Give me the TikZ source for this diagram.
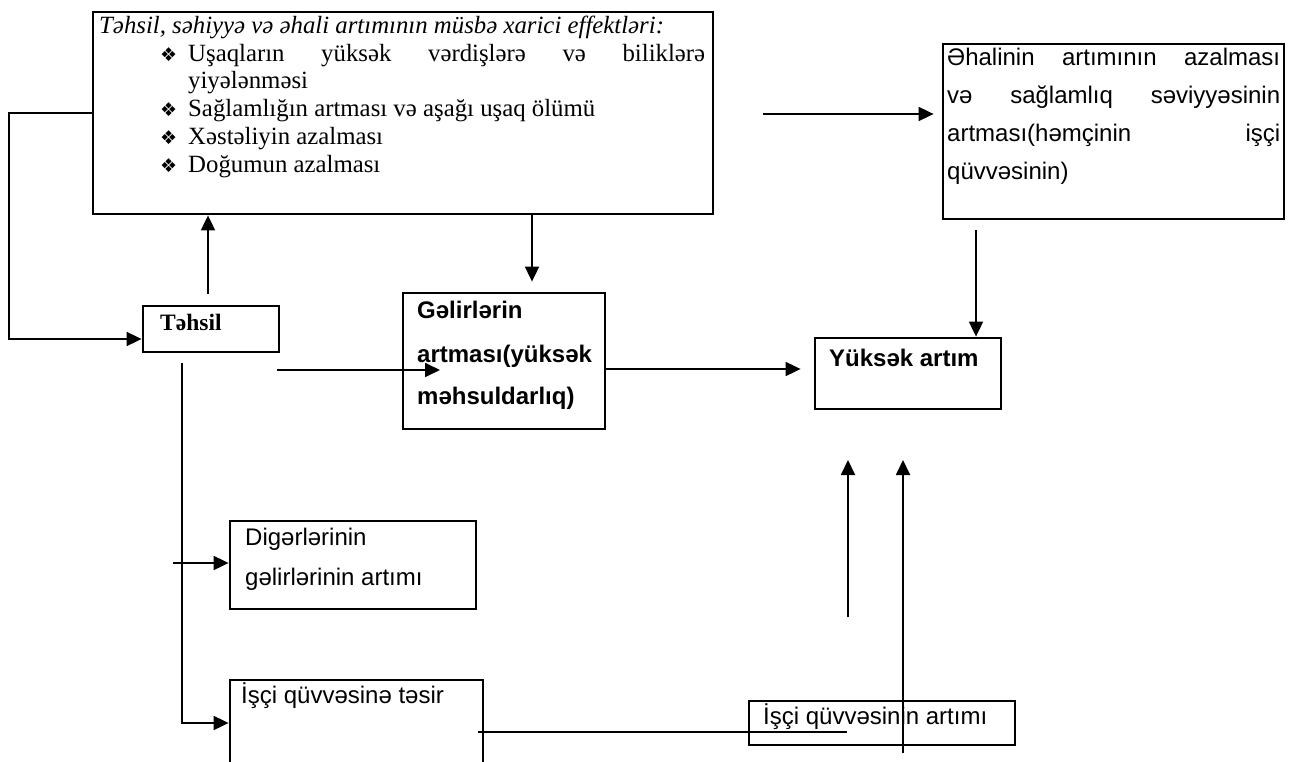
\documentclass[tikz,border=0pt]{standalone}
\usepackage{fontspec}
\setmainfont{Liberation Serif}
\setsansfont{Liberation Sans}
\newfontfamily\symfnt{DejaVu Sans}
\usetikzlibrary{arrows.meta,fit}
\begin{document}
\begin{tikzpicture}[x=1pt,y=-1pt,
  box/.style={draw, line width=2.8pt, inner sep=0pt},
  conn/.style={line width=1.8pt},
  arr/.style={conn, -{Triangle[length=15pt,width=14pt]}},
  txt/.style={anchor=base west, inner sep=0pt},
  serif/.style={txt, font=\fontsize{24.8}{28}\selectfont},
  sans/.style={txt, font=\fontsize{24}{40}\selectfont\sffamily},
  bsans/.style={txt, font=\fontsize{24}{40}\selectfont\sffamily\bfseries},
  bul/.style={txt, font=\fontsize{19}{19}\selectfont\symfnt}
]
\useasboundingbox (0,0) rectangle (1291,762);
\clip (0,0) rectangle (1291,762);
\fill[white] (0,0) rectangle (1291,762);

% boxes
\node[box, fit={(93,12) (713,214)}] (A) {};
\node[box, fit={(943,44) (1284,219)}] (B) {};
\node[box, fit={(143,306) (279,352)}] (T) {};
\node[box, fit={(403,293) (605,429)}] (G) {};
\node[box, fit={(815,338) (1001,409)}] (Y) {};
\node[box, fit={(230,521) (476,609)}] (D) {};
\node[box, fit={(230,680) (483,790)}] (I1) {};
\node[box, fit={(749,701) (1015,745)}] (I2) {};

% texts of A
\node[serif] (At) at (99,34) {\itshape Təhsil, səhiyyə və əhali artımının müsbə xarici effektləri:};
\node[bul] (b1) at (160,62) {❖};
\node[serif] (a1) at (188,62) {\makebox[517pt][s]{Uşaqların yüksək vərdişlərə və biliklərə}};
\node[serif] (a2) at (188,89) {yiyələnməsi};
\node[bul] (b2) at (160,117) {❖};
\node[serif] (a3) at (188,117) {Sağlamlığın artması və aşağı uşaq ölümü};
\node[bul] (b3) at (160,145) {❖};
\node[serif] (a4) at (188,145) {Xəstəliyin azalması};
\node[bul] (b4) at (160,173) {❖};
\node[serif] (a5) at (188,173) {Doğumun azalması};

% texts of B
\node[sans] (B1) at (947,66) {\makebox[333pt][s]{Əhalinin artımının azalması}};
\node[sans] (B2) at (947,104) {\makebox[333pt][s]{və sağlamlıq səviyyəsinin}};
\node[sans] (B3) at (947,142) {\makebox[333pt][s]{artması(həmçinin işçi}};
\node[sans] (B4) at (947,180) {qüvvəsinin)};

% other texts
\node[serif, font=\fontsize{23.5}{28}\selectfont\bfseries] (Tt) at (160,330) {Təhsil};
\node[bsans] (G1) at (417,319) {Gəlirlərin};
\node[bsans] (G2) at (417,362) {artması(yüksək};
\node[bsans] (G3) at (417,404) {məhsuldarlıq)};
\node[bsans] (Yt) at (829,366) {Yüksək artım};
\node[sans] (D1) at (245,545) {Digərlərinin};
\node[sans] (D2) at (245,585) {gəlirlərinin artımı};
\node[sans] (I1t) at (241,703) {İşçi qüvvəsinə təsir};
\node[sans] (I2t) at (763,724) {İşçi qüvvəsinin artımı};

% connectors
\draw[arr] (A.west |- 0,113) -- (9,113) -- (9,339) -- (T.west |- 0,339);
\draw[arr, shorten <=11pt] (T.north -| 208,0) -- (A.south -| 208,0);
\draw[arr, shorten >=10pt] (A.south -| 532,0) -- (G.north -| 532,0);
\coordinate (ab) at (763,114);
\draw[arr, shorten >=8pt] (ab) -- (B.west |- ab);
\coordinate (tg) at (277,370);
\coordinate (tgEnd) at (440,370);
\draw[arr] (tg) -- (tgEnd);
\draw[arr, shorten >=13pt] (G.east |- 0,369) -- (Y.west |- 0,369);
\draw[arr, shorten <=10pt] (B.south -| 976,0) -- (Y.north -| 976,0);
\draw[arr, shorten <=10pt] (T.south -| 182,0) -- (182,723) -- (I1.west |- 0,723);
\coordinate (dIn) at (173,563);
\draw[arr] (dIn) -- (D.west |- dIn);
\coordinate (ii1) at (478,732);
\coordinate (ii2) at (847,732);
\draw[conn] (ii1) -- (ii2);
\coordinate (u1) at (848,617);
\coordinate (u1t) at (848,460);
\draw[arr] (u1) -- (u1t);
\coordinate (u2) at (903,753);
\coordinate (u2t) at (903,460);
\draw[arr] (u2) -- (u2t);
\end{tikzpicture}
\end{document}
